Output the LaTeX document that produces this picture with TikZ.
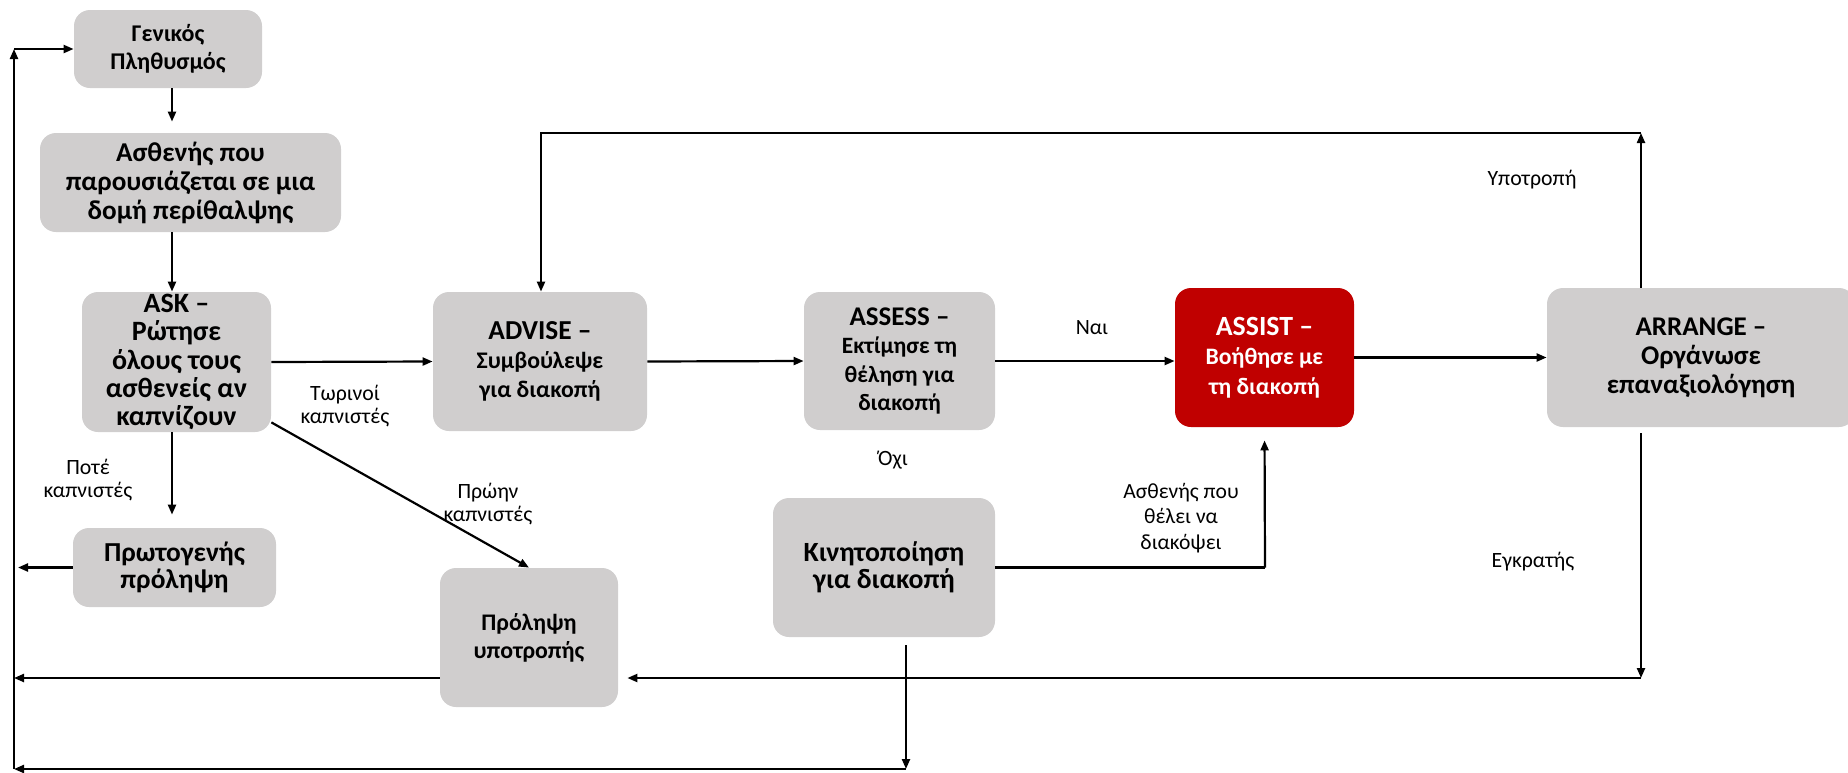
\documentclass[tikz,border=0pt]{standalone}
\usepackage{fontspec}
\setmainfont{Carlito}
\usetikzlibrary{arrows.meta}
\definecolor{boxgray}{RGB}{208,206,206}
\definecolor{boxred}{RGB}{192,0,0}
\newcommand\myfs[2]{\fontsize{#1}{#2}\selectfont}
\begin{document}
\begin{tikzpicture}[x=0.5pt,y=-0.5pt,
  box/.style={fill=boxgray, rounded corners=8pt, align=center, inner sep=1pt},
  redbox/.style={box, fill=boxred, text=white},
  conn/.style={line width=1.1pt, -{Triangle[length=5pt,width=4pt]}},
  plain/.style={line width=1.1pt},
  lab/.style={align=center, font=\myfs{10.9}{11.75}}]
\useasboundingbox (0,0) rectangle (1848,772);

% boxes
\node[box, minimum width=94pt, minimum height=39pt, font=\bfseries\myfs{12}{14}] (gen) at (168,49) {Γενικός\\Πληθυσμός};
\node[box, minimum width=150.5pt, minimum height=49.5pt, font=\bfseries\myfs{13.6}{14.5}] (pat) at (190.5,182.5) {Ασθενής που\\παρουσιάζεται σε μια\\δομή περίθαλψης};
\node[box, minimum width=94.5pt, minimum height=70pt, font=\bfseries\myfs{14}{14.1}] (ask) at (176.5,362) {ASK –\\Ρώτησε\\όλους τους\\ασθενείς αν\\καπνίζουν};
\node[box, minimum width=107pt, minimum height=69.5pt, font=\bfseries\myfs{11.9}{14.5}] (adv) at (540,361.5) {{\myfs{13.7}{14.5}ADVISE –}\\Συμβούλεψε\\για διακοπή};
\node[box, minimum width=95.5pt, minimum height=69pt, font=\bfseries\myfs{11.7}{14.3}] (ass) at (899.5,361) {{\myfs{13.5}{14.3}ASSESS –}\\Εκτίμησε τη\\θέληση για\\διακοπή};
\node[redbox, minimum width=89.5pt, minimum height=69.5pt, font=\bfseries\myfs{11.8}{14.7}] (assist) at (1264.5,357.5) {{\myfs{13.9}{14.7}ASSIST –}\\Βοήθησε με\\τη διακοπή};
\node[box, minimum width=154pt, minimum height=69.5pt, font=\bfseries\myfs{13.5}{14.5}] (arr) at (1701,357.5) {ARRANGE –\\Οργάνωσε\\επαναξιολόγηση};
\node[box, minimum width=101.5pt, minimum height=39.5pt, font=\bfseries\myfs{13.7}{13.5}] (prim) at (174.5,567.5) {Πρωτογενής\\πρόληψη};
\node[box, minimum width=89pt, minimum height=69.5pt, font=\bfseries\myfs{11.9}{14}] (relap) at (529,637.5) {Πρόληψη\\υποτροπής};
\node[box, minimum width=111pt, minimum height=69.5pt, font=\bfseries\myfs{13.9}{13.5}] (mot) at (884,567.5) {Κινητοποίηση\\για διακοπή};

% labels
\node[lab] (l1) at (345,406) {Τωρινοί\\καπνιστές};
\node[lab] (l2) at (88,480) {Ποτέ\\καπνιστές};
\node[lab] (l3) at (488,504) {Πρώην\\καπνιστές};
\node[lab] (l4) at (1092,328) {Ναι};
\node[lab] (l5) at (893,460) {Όχι};
\node[lab] (l6) at (1532,180) {Υποτροπή};
\node[lab, font=\myfs{10.8}{12.75}] (l7) at (1181,518) {Ασθενής που\\θέλει να\\διακόψει};
\node[lab] (l8) at (1533,562) {Εγκρατής};

% coordinates
\coordinate (colx) at (172,0);
\coordinate (tl) at (14,49);
\coordinate (bl) at (14,769);
\coordinate (br) at (906,769);
\coordinate (pl) at (18,567.5);
\coordinate (rl) at (14,678);
\coordinate (rb) at (1641,678);
\coordinate (rt) at (1641,133);
\coordinate (at) at (541,133);
\coordinate (kc) at (1265,567.5);

% connectors
\draw[conn, shorten >=5.5pt] (gen.south -| colx) -- (pat.north -| colx);
\draw[conn] (pat.south -| colx) -- (ask.north -| colx);
\draw[conn, shorten >=6.5pt] (ask.south -| colx) -- (prim.north -| colx);
\draw[conn] (ask.east) -- (adv.west);
\draw[conn] (adv.east) -- (ass.west);
\draw[conn] (ass.east) -- (ass.east -| assist.west);
\draw[conn] (assist.east) -- (arr.west);
\draw[conn] ([yshift=5pt]ask.south east) -- (relap.north);
\draw[plain] (mot.east) -- (kc);
\draw[conn, shorten >=6.5pt] (kc) -- (assist.south);
\draw[conn] ([yshift=-3pt]arr.south -| rb) -- (rb);
\draw[conn, shorten >=4.5pt] (rb) -- (relap.east |- rb);
\draw[conn] (arr.north -| rt) -- (rt);
\draw[conn] (rt) -- (at) -- (at |- adv.north);
\draw[conn] (prim.west) -- (pl);
\draw[conn] (relap.west |- rl) -- (rl);
\draw[conn] ([yshift=-4pt]mot.south -| br) -- (br);
\draw[conn] (br) -- (bl);
\draw[conn] (bl) -- (tl);
\draw[conn] (tl) -- (gen.west);
\end{tikzpicture}
\end{document}
